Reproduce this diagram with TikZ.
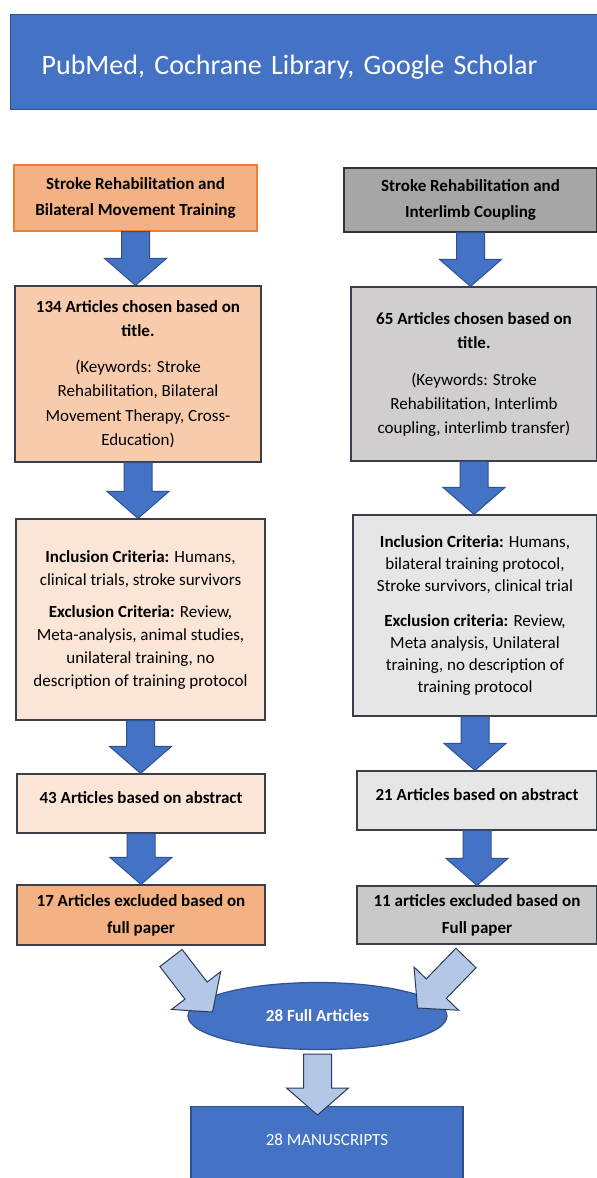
\documentclass[tikz,border=0pt]{standalone}
\usepackage{fontspec}
\setmainfont{Carlito}
\usepackage{xcolor}
\usetikzlibrary{calc,positioning,shapes.geometric}
\definecolor{ppblue}{HTML}{4472C4}
\definecolor{ppblueline}{HTML}{2F528F}
\definecolor{pplight}{HTML}{B4C7E7}
\definecolor{arrline}{HTML}{2B3A55}
\definecolor{boxline}{HTML}{3A3F4A}
\definecolor{orangeA}{HTML}{F4B183}
\definecolor{orangeB}{HTML}{F8CBAD}
\definecolor{orangeC}{HTML}{FBE5D6}
\definecolor{orangeline}{HTML}{ED7D31}
\definecolor{grayA}{HTML}{A6A6A6}
\definecolor{grayB}{HTML}{D0CECE}
\definecolor{grayC}{HTML}{E7E6E6}
\definecolor{grayD}{HTML}{C9C9C9}
\tikzset{%
	box/.style      = {draw=boxline, line width=1.2bp, rectangle, align=center, inner sep=2bp, text centered, font=\fontsize{17bp}{23bp}\selectfont},
	bluebox/.style  = {draw=ppblueline, fill=ppblue, line width=1.2bp, rectangle, text=white, font=\fontsize{17bp}{23bp}\selectfont},
	banner/.style   = {bluebox, align=left, font=\fontsize{28bp}{34bp}\selectfont},
	fullart/.style  = {bluebox, ellipse, inner sep=0pt, font=\fontsize{17bp}{23bp}\selectfont\bfseries},
	darrow/.style   = {draw=ppblueline, fill=ppblue, line width=1bp, line join=miter},
	lightarrow/.style = {draw=arrline, fill=pplight, line width=1bp, line join=miter},
}
% block arrow from #2 to #3
\newcommand{\blockarrow}[3][]{%
	\coordinate (bh) at ($(#3)!27bp!(#2)$);
	\draw[#1] ($(#2)!14bp!90:(#3)$) -- ($(bh)!14bp!90:(#3)$) -- ($(bh)!31bp!90:(#3)$) -- (#3)
		-- ($(bh)!31bp!-90:(#3)$) -- ($(bh)!14bp!-90:(#3)$) -- ($(#2)!14bp!-90:(#3)$) -- cycle;
}
\begin{document}
\begin{tikzpicture}[x=1bp,y=-1bp]
	\path[use as bounding box, fill=white] (0,0) rectangle (597,1178);
	\node[banner, anchor=north west, minimum width=587bp, minimum height=95bp, text width=525bp, inner xsep=31bp, text height=29bp] (src) at (10,14) {PubMed, Cochrane Library, Google Scholar};
	% left column
	\node[box, fill=orangeA, draw=orangeline, minimum width=243bp, minimum height=66bp, font=\fontsize{17bp}{26bp}\selectfont\bfseries] (l1) at (135.5,198) {Stroke Rehabilitation and\\Bilateral Movement Training};
	\node[box, fill=orangeB, minimum width=246bp, minimum height=176bp, font=\fontsize{17bp}{24.5bp}\selectfont] (l2) at (138,374) {\textbf{134 Articles chosen based on}\\\textbf{title.}\\[11bp](Keywords: Stroke\\Rehabilitation, Bilateral\\Movement Therapy, Cross-\\Education)};
	\node[box, fill=orangeC, minimum width=249bp, minimum height=201bp] (l3) at (140.5,619.5) {\textbf{Inclusion Criteria:} Humans,\\clinical trials, stroke survivors\\[9bp]\textbf{Exclusion Criteria:} Review,\\Meta-analysis, animal studies,\\unilateral training, no\\description of training protocol};
	\node[box, fill=orangeC, minimum width=248bp, minimum height=59bp, text depth=12bp, font=\fontsize{17bp}{23bp}\selectfont\bfseries] (l4) at (141,803.5) {43 Articles based on abstract};
	\node[box, fill=orangeA, minimum width=248bp, minimum height=60bp, font=\fontsize{17bp}{27bp}\selectfont\bfseries] (l5) at (141,915) {17 Articles excluded based on\\full paper};
	% right column
	\node[box, fill=grayA, draw=black!80, minimum width=253bp, minimum height=64bp, font=\fontsize{17bp}{26bp}\selectfont\bfseries] (r1) at (470.5,200) {Stroke Rehabilitation and\\Interlimb Coupling};
	\node[box, fill=grayB, minimum width=246bp, minimum height=174bp, font=\fontsize{17bp}{24bp}\selectfont] (r2) at (474,374) {\textbf{65 Articles chosen based on}\\\textbf{title.}\\[13bp](Keywords: Stroke\\Rehabilitation, Interlimb\\coupling, interlimb transfer)};
	\node[box, fill=grayC, minimum width=244bp, minimum height=201bp, font=\fontsize{17bp}{22bp}\selectfont] (r3) at (475,615.5) {\textbf{Inclusion Criteria:} Humans,\\bilateral training protocol,\\Stroke survivors, clinical trial\\[13bp]\textbf{Exclusion criteria:} Review,\\Meta analysis, Unilateral\\training, no description of\\training protocol};
	\node[box, fill=grayC, minimum width=240bp, minimum height=59bp, text depth=12bp, font=\fontsize{17bp}{23bp}\selectfont\bfseries] (r4) at (477,800.5) {21 Articles based on abstract};
	\node[box, fill=grayD, minimum width=240bp, minimum height=58bp, font=\fontsize{17bp}{27bp}\selectfont\bfseries] (r5) at (477,915) {11 articles excluded based on\\Full paper};
	% merge
	\node[fullart, minimum width=259bp, minimum height=67bp] (full) at (317.5,1016) {28 Full Articles};
	\node[bluebox, anchor=north, minimum width=272bp, minimum height=76bp, text depth=10bp] (ms) at (327,1106) {28 MANUSCRIPTS};
	\foreach \a/\b in {l1/l2,l2/l3,l3/l4,l4/l5,r1/r2,r2/r3,r3/r4,r4/r5}
		\blockarrow[darrow]{\a.south}{\a.south |- \b.north};
	\coordinate (lt) at (171,958);
	\coordinate (rt) at (466,958);
	\coordinate (ltip) at ($(full.center)+(-105,-4)$);
	\coordinate (rtip) at ($(full.center)+(100,-8)$);
	\coordinate (mtop) at ($(full.south)+(0,4)$);
	\coordinate (mtip) at ($(full.south |- ms.north)+(0,9)$);
	\blockarrow[lightarrow]{lt}{ltip}
	\blockarrow[lightarrow]{rt}{rtip}
	\blockarrow[lightarrow]{mtop}{mtip}
\end{tikzpicture}
\end{document}
